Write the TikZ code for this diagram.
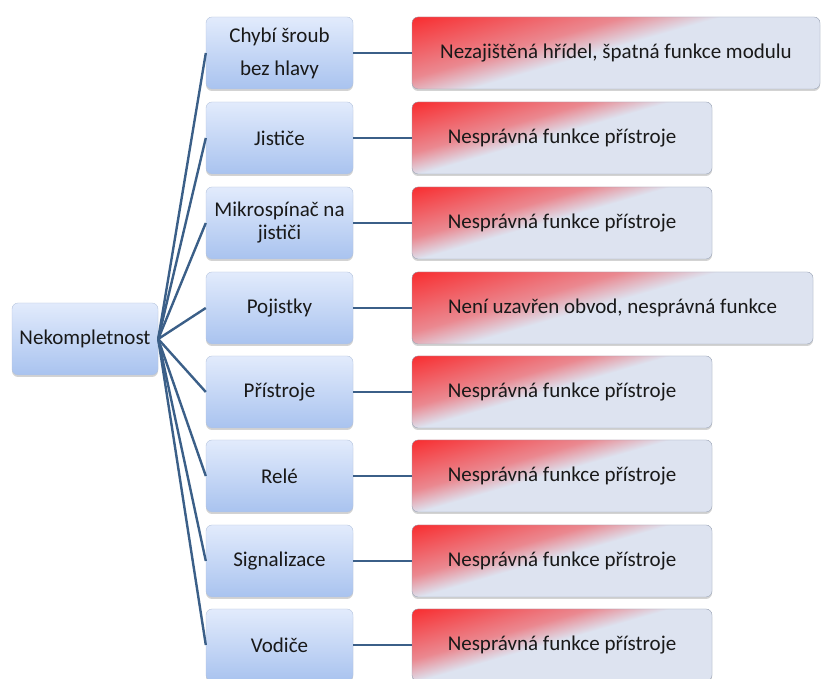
\documentclass[tikz,border=0pt]{standalone}
\usepackage{fontspec}
\setmainfont{Carlito}
\usetikzlibrary{shadows, positioning}
\definecolor{linkblue}{HTML}{3B5F88}
\definecolor{midtop}{HTML}{E2EBFC}
\definecolor{midbot}{HTML}{A9C3EF}
\definecolor{midedge}{HTML}{B4C3DC}
\definecolor{rightbg}{HTML}{DDE3F0}
\definecolor{rightedge}{HTML}{9AA3B3}
\pgfdeclareverticalshading{redcorner}{100bp}{color(0bp)=(rightbg); color(52bp)=(rightbg);
	color(61bp)=(red!40!rightbg); color(77bp)=(red!72!rightbg); color(90bp)=(red); color(100bp)=(red)}
\tikzstyle{root} = [rectangle, rounded corners=6pt, draw=midedge, top color=midtop,
	bottom color=midbot, minimum width=146pt, minimum height=72pt, align=center,
	drop shadow={opacity=0.35, shadow xshift=0pt, shadow yshift=-2pt}]
\tikzstyle{part} = [root, minimum width=147pt]
\tikzstyle{fault} = [rectangle, rounded corners=6pt, draw=rightedge, fill=rightbg,
	minimum width=300pt, minimum height=72pt, align=center,
	drop shadow={opacity=0.35, shadow xshift=0pt, shadow yshift=-2pt},
	path picture={\shade[shading=redcorner, shading angle=16]
		(path picture bounding box.south west) rectangle (path picture bounding box.north east);}]
\tikzstyle{link} = [draw=linkblue, line width=2.4pt]

\begin{document}
\begin{tikzpicture}[x=1pt, y=1pt, font=\fontsize{21}{23}\selectfont, text=black!90]
	\useasboundingbox (0,0) rectangle (822,679);

	% set up nodes
	\node (root) [root] at (85,340) {Nekompletnost};
	\node (sroub) [part] at (279.5,626) {Chybí šroub\\[10pt]bez hlavy};
	\node (jistice) [part] at (279.5,541) {Jističe};
	\node (mikro) [part] at (279.5,456) {Mikrospínač na\\jističi};
	\node (pojistky) [part] at (279.5,371) {Pojistky};
	\node (pristroje) [part] at (279.5,287) {Přístroje};
	\node (rele) [part] at (279.5,203) {Relé};
	\node (signal) [part] at (279.5,118) {Signalizace};
	\node (vodice) [part] at (279.5,34) {Vodiče};

	% set up faults
	\node (f-sroub) [fault, minimum width=408pt] at (616,626) {Nezajištěná hřídel, špatná funkce modulu};
	\node (f-jistice) [fault] at (562,541) {Nesprávná funkce přístroje};
	\node (f-mikro) [fault] at (562,456) {Nesprávná funkce přístroje};
	\node (f-pojistky) [fault, minimum width=401pt] at (612.5,371) {Není uzavřen obvod, nesprávná funkce};
	\node (f-pristroje) [fault] at (562,287) {Nesprávná funkce přístroje};
	\node (f-rele) [fault] at (562,203) {Nesprávná funkce přístroje};
	\node (f-signal) [fault] at (562,118) {Nesprávná funkce přístroje};
	\node (f-vodice) [fault] at (562,34) {Nesprávná funkce přístroje};

	% set up links between nodes
	\draw [link] (root.east) -- (sroub.west);
	\draw [link] (root.east) -- (jistice.west);
	\draw [link] (root.east) -- (mikro.west);
	\draw [link] (root.east) -- (pojistky.west);
	\draw [link] (root.east) -- (pristroje.west);
	\draw [link] (root.east) -- (rele.west);
	\draw [link] (root.east) -- (signal.west);
	\draw [link] (root.east) -- (vodice.west);
	\draw [link] (sroub.east) -- (f-sroub.west);
	\draw [link] (jistice.east) -- (f-jistice.west);
	\draw [link] (mikro.east) -- (f-mikro.west);
	\draw [link] (pojistky.east) -- (f-pojistky.west);
	\draw [link] (pristroje.east) -- (f-pristroje.west);
	\draw [link] (rele.east) -- (f-rele.west);
	\draw [link] (signal.east) -- (f-signal.west);
	\draw [link] (vodice.east) -- (f-vodice.west);

\end{tikzpicture}
\end{document}
